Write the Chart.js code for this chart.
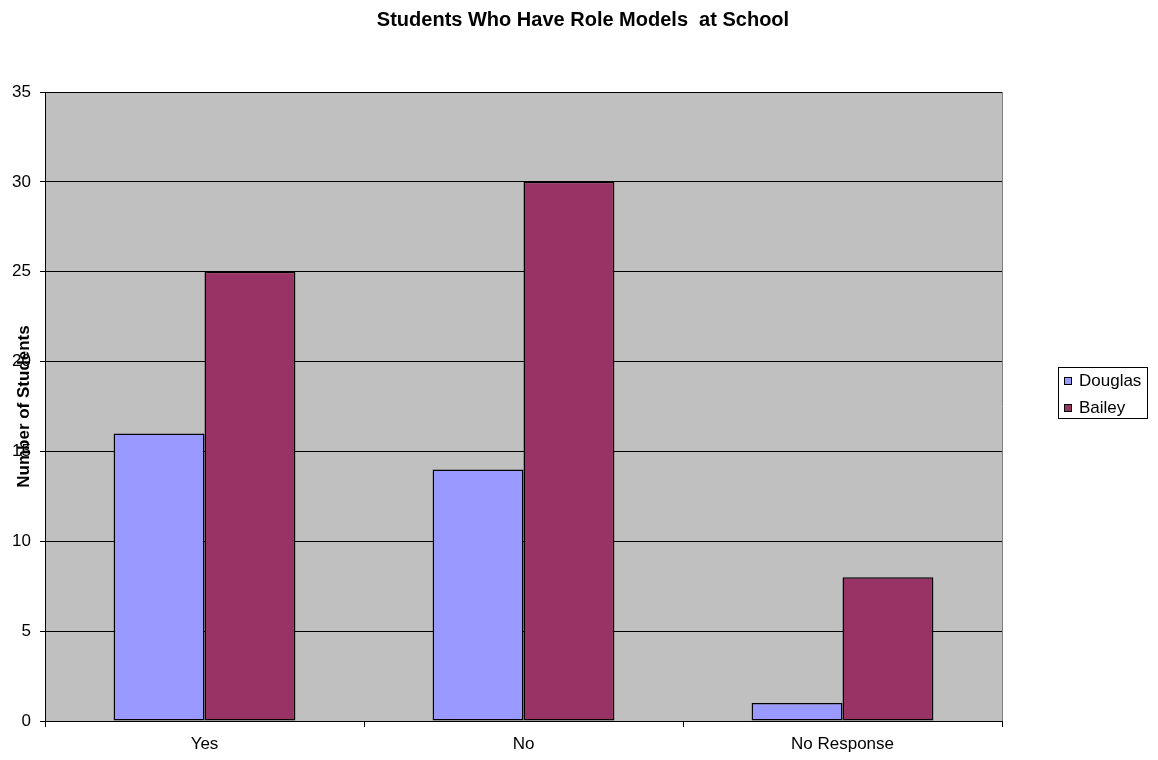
<!DOCTYPE html>
<html>
<head>
<meta charset="utf-8">
<script src="https://cdn.jsdelivr.net/npm/chart.js@4/dist/chart.umd.min.js"></script>
<style>
  html, body { margin: 0; padding: 0; background: #fff; }
  #wrap { width: 1158px; height: 760px; }
</style>
</head>
<body>
<div id="wrap"><canvas id="myChart" width="1158" height="760"></canvas></div>
<script>
// datos de la grafica
var categorias = ['Yes', 'No', 'No Response'];
var douglas = [16, 14, 1];
var bailey = [25, 30, 8];
var seriesNombres = ['Douglas', 'Bailey'];
var tituloGrafica = 'Students Who Have Role Models  at School';
var tituloEjeY = 'Number of Students';

var fuente = 'Arial, "Liberation Sans", sans-serif';

// fondo gris, titulos y leyenda con borde
var decoracion = {
    id: 'decoracion',
    beforeDraw: function (chart) {
        var ctx = chart.ctx, a = chart.chartArea;
        ctx.save();
        ctx.fillStyle = '#c0c0c0';
        ctx.fillRect(a.left, a.top, a.right - a.left, a.bottom - a.top);
        ctx.restore();
    },
    afterDraw: function (chart) {
        var ctx = chart.ctx, a = chart.chartArea;
        ctx.save();
        // borde derecho del area
        ctx.strokeStyle = '#808080';
        ctx.lineWidth = 1;
        ctx.beginPath();
        ctx.moveTo(a.right + 0.5, a.top);
        ctx.lineTo(a.right + 0.5, a.bottom);
        ctx.stroke();

        // titulo
        ctx.fillStyle = '#000';
        ctx.font = 'bold 20px ' + fuente;
        ctx.textAlign = 'center';
        ctx.textBaseline = 'middle';
        ctx.fillText(tituloGrafica, 583, 20);

        // titulo eje Y
        ctx.font = 'bold 17px ' + fuente;
        ctx.translate(24, (a.top + a.bottom) / 2);
        ctx.rotate(-Math.PI / 2);
        ctx.fillText(tituloEjeY, 0, 0);
        ctx.setTransform(1, 0, 0, 1, 0, 0);

        // leyenda
        ctx.strokeStyle = '#000';
        ctx.strokeRect(1058.5, 367.5, 89, 51);
        var colores = chart.data.datasets.map(function (d) { return d.backgroundColor; });
        ctx.font = '17px ' + fuente;
        ctx.textAlign = 'left';
        for (var i = 0; i < seriesNombres.length; i++) {
            var y = 381 + i * 27;
            ctx.fillStyle = colores[i];
            ctx.fillRect(1064, y - 4, 8, 8);
            ctx.strokeRect(1064.5, y - 3.5, 7, 7);
            ctx.fillStyle = '#000';
            ctx.fillText(seriesNombres[i], 1079, y);
        }
        ctx.restore();
    }
};

var ctx = document.getElementById('myChart').getContext('2d');
var myChart = new Chart(ctx, {
    type: 'bar',
    data: {
        labels: categorias,
        datasets: [{
            label: seriesNombres[0],
            data: douglas,
            backgroundColor: '#9999ff',
            borderColor: '#000',
            borderWidth: 1.5,
            borderSkipped: false
        }, {
            label: seriesNombres[1],
            data: bailey,
            backgroundColor: '#993366',
            borderColor: '#000',
            borderWidth: 1.5,
            borderSkipped: false
        }]
    },
    options: {
        responsive: false,
        animation: false,
        layout: { padding: { top: 92, left: 0, right: 156, bottom: 0 } },
        plugins: {
            legend: { display: false },
            title: { display: false },
            tooltip: { enabled: false }
        },
        datasets: {
            bar: { categoryPercentage: 0.57, barPercentage: 1.0 }
        },
        scales: {
            x: {
                afterFit: function (s) { s.height = 39; },
                grid: { drawOnChartArea: false, offset: true, tickLength: 6, color: '#000' },
                border: { color: '#000' },
                ticks: { color: '#000', font: { family: fuente, size: 17 }, padding: 7 }
            },
            y: {
                min: 0,
                max: 35,
                afterFit: function (s) { s.width = 45; },
                grid: { color: '#000', tickLength: 5 },
                border: { color: '#000' },
                ticks: { stepSize: 5, color: '#000', font: { family: fuente, size: 17 }, padding: 9 }
            }
        }
    },
    plugins: [decoracion]
});
</script>
</body>
</html>
